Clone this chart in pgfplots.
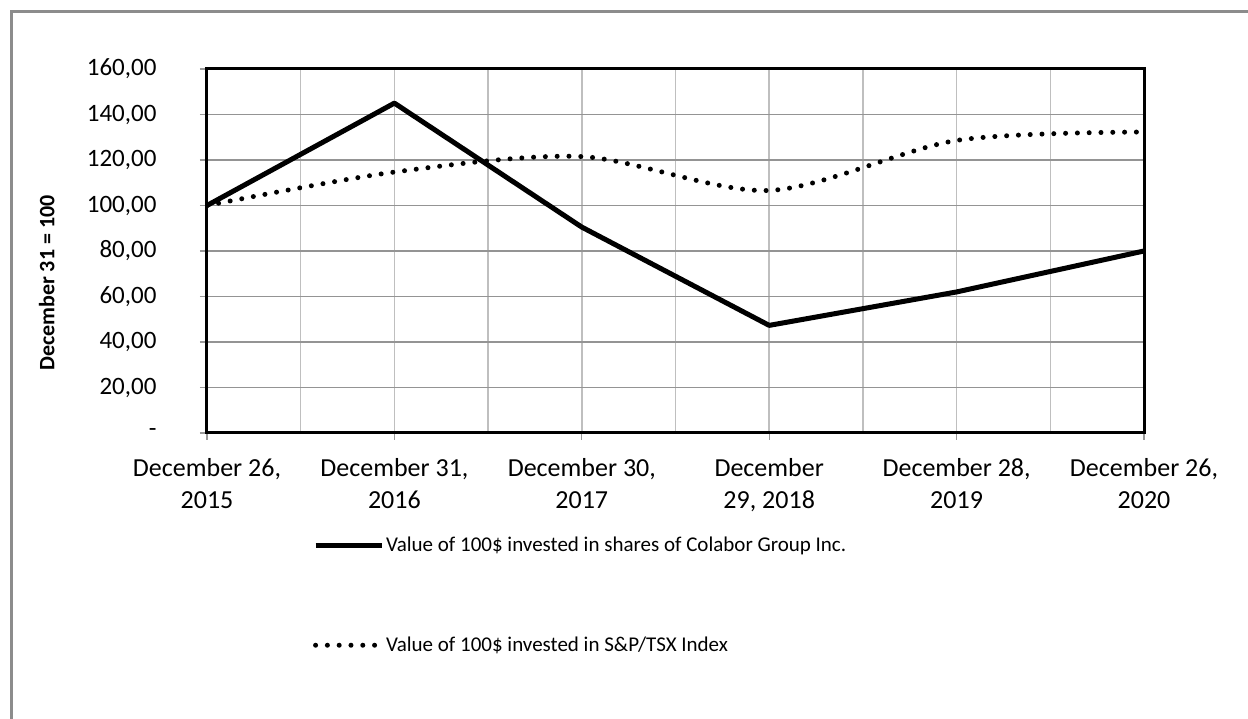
\documentclass[border=0pt]{standalone}
\usepackage{pgfplots}
\pgfplotsset{compat=1.18}
\usepackage{fontspec}
\setmainfont{Carlito}
\pgfplotstableread{
x colabor tsx
0 100 100
1 145 114.7
2 90.5 121.5
3 47.3 106.6
4 62 128.6
5 80 132.3
}\datatable
\begin{document}
\begin{tikzpicture}[x=1pt,y=1pt]
\useasboundingbox (0,0) rectangle (1248,719);
\draw[line width=2.5pt, black!45] (11.5,-5) -- (11.5,707.5) -- (1260,707.5);
\begin{axis}[
  at={(207pt,286pt)}, anchor=south west, scale only axis,
  width=937pt, height=364pt,
  xmin=0, xmax=5, ymin=0, ymax=160,
  xtick={0,...,5},
  xticklabels={{December 26,\\2015},{December 31,\\2016},{December 30,\\2017},{December\\29, 2018},{December 28,\\2019},{December 26,\\2020}},
  minor xtick={0.5,1.5,2.5,3.5,4.5},
  ytick={0,20,...,160},
  yticklabels={-,{20,00},{40,00},{60,00},{80,00},{100,00},{120,00},{140,00},{160,00}},
  xmajorgrids, xminorgrids, ymajorgrids,
  major x grid style={black!25, line width=1.5pt},
  minor x grid style={black!25, line width=1.5pt},
  major y grid style={black!42, line width=1.5pt},
  axis line style={black, line width=3pt},
  tick align=outside, major tick length=7pt, minor tick length=0pt,
  tick style={black!40, line width=1.2pt},
  xtick pos=bottom, ytick pos=left,
  yticklabel style={font=\fontsize{25}{30}\selectfont, xshift=-40pt},
  xticklabel style={font=\fontsize{26}{32}\selectfont, align=center, yshift=-15pt},
  ylabel={\textbf{December 31 = 100}},
  ylabel style={font=\fontsize{22}{26}\selectfont, at={(axis description cs:-0.171,0.412)}, anchor=center},
  legend style={at={(axis description cs:0.113,-0.28)}, anchor=north west, draw=none, fill=none,
    font=\fontsize{21}{25}\selectfont, row sep=80pt, inner sep=0pt},
  legend cell align=left,
  legend image code/.code={\draw[#1] (0pt,0pt) -- (66pt,0pt);},
]
\addplot[black, line width=5pt, line join=round] table[x=x,y=colabor]{\datatable};
\addlegendentry{Value of 100\$ invested in shares of Colabor Group Inc.}
\addplot[black, line width=5pt, line cap=round, dash pattern=on 0pt off 11.8pt, smooth, tension=0.5] table[x=x,y=tsx]{\datatable};
\addlegendentry{Value of 100\$ invested in S\&P/TSX Index}
\end{axis}
\end{tikzpicture}
\end{document}
